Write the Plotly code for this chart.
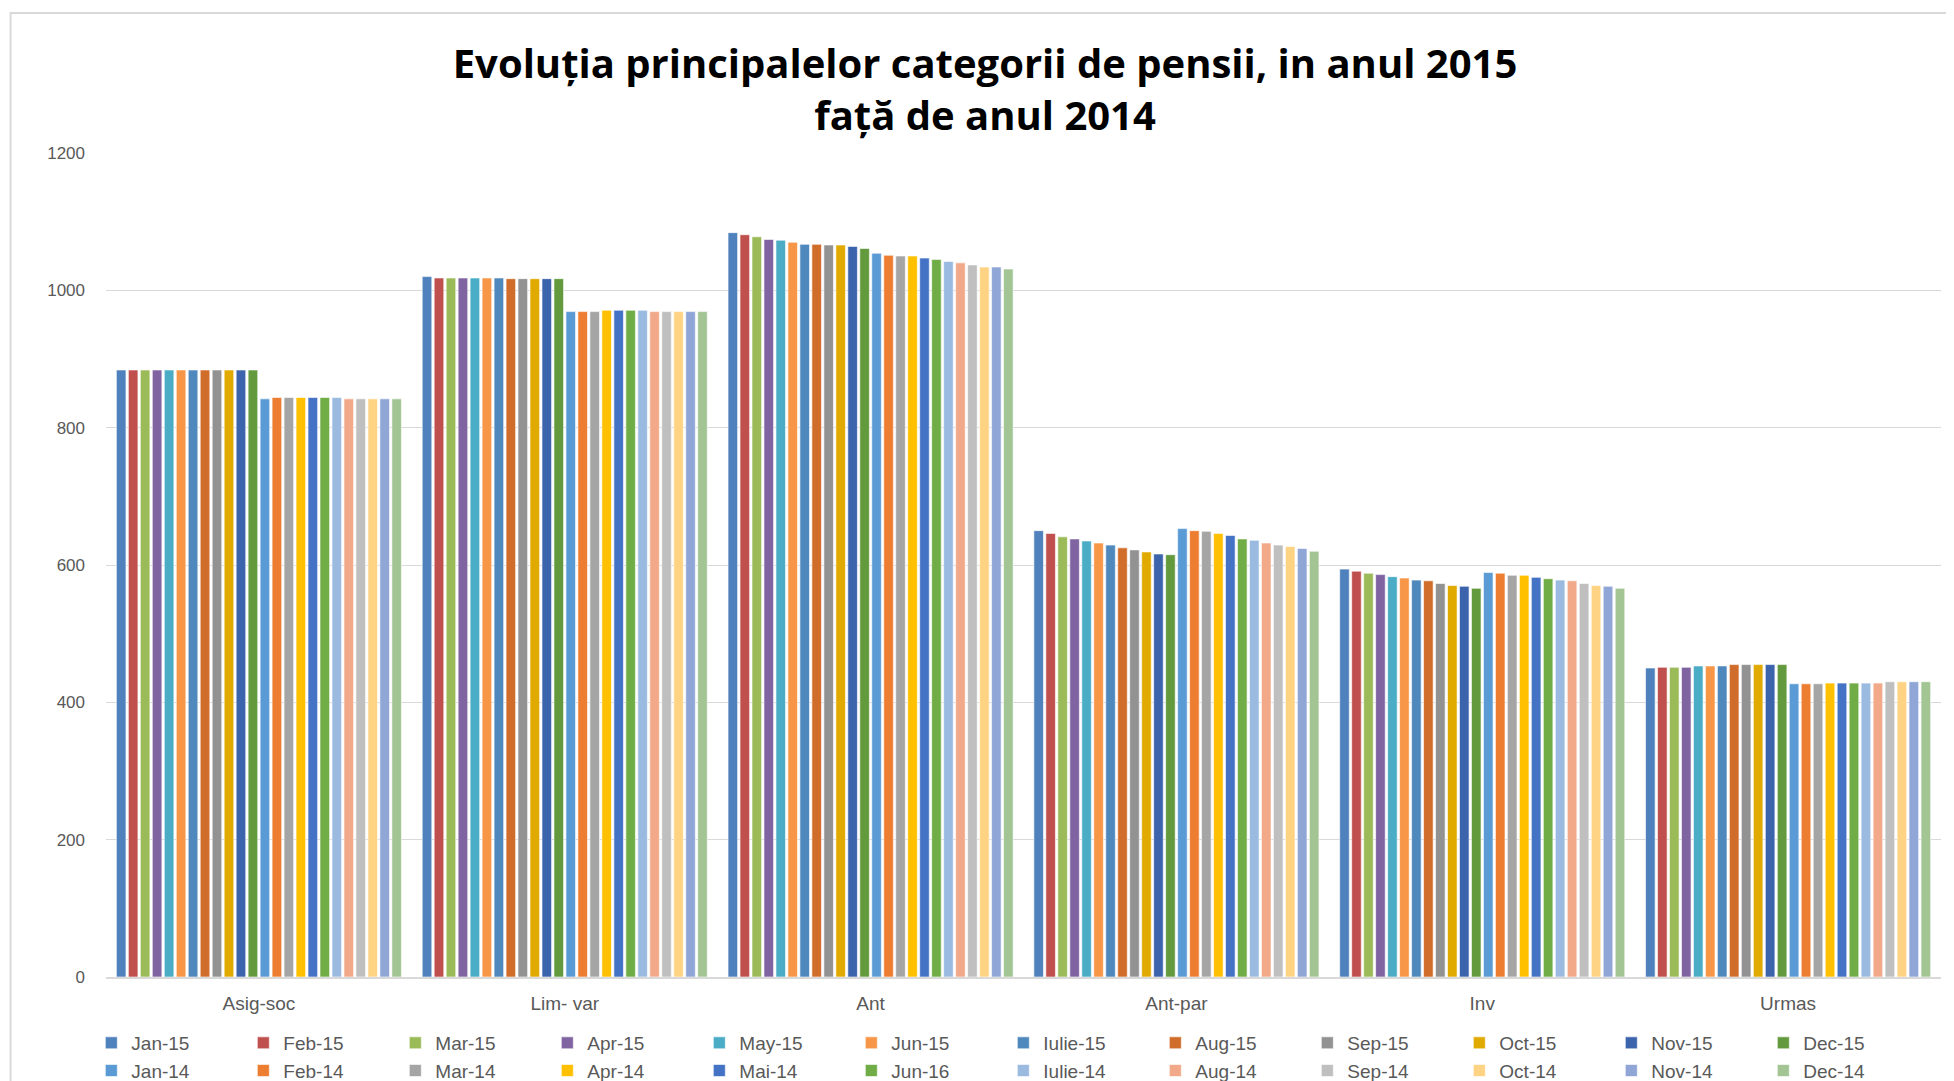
import plotly.graph_objects as go

categories = ["Asig-soc", "Lim- var", "Ant", "Ant-par", "Inv", "Urmas"]

series_names = ["Jan-15", "Feb-15", "Mar-15", "Apr-15", "May-15", "Jun-15",
                "Iulie-15", "Aug-15", "Sep-15", "Oct-15", "Nov-15", "Dec-15",
                "Jan-14", "Feb-14", "Mar-14", "Apr-14", "Mai-14", "Jun-16",
                "Iulie-14", "Aug-14", "Sep-14", "Oct-14", "Nov-14", "Dec-14"]

series_colors = ["#4F81BD", "#C0504D", "#9BBB59", "#8064A2", "#4BACC6", "#F79646",
                 "#4F88BD", "#D16D2B", "#929292", "#E1AA00", "#3C64AD", "#629A3D",
                 "#5B9BD5", "#ED7D31", "#A5A5A5", "#FFC000", "#4472C4", "#70AD47",
                 "#9BBAE0", "#F1A98A", "#BFBFBF", "#FFD384", "#8FA6D6", "#A3C593"]

asig_soc = [884, 884, 884, 884, 884, 884, 884, 884, 884, 884, 884, 884,
            842, 844, 844, 844, 844, 844, 844, 842, 842, 842, 842, 842]
lim_var = [1020, 1018, 1018, 1018, 1018, 1018, 1018, 1017, 1017, 1017, 1017, 1017,
           969, 969, 969, 971, 971, 971, 971, 969, 969, 969, 969, 969]
ant = [1084, 1081, 1078, 1074, 1073, 1070, 1067, 1067, 1066, 1066, 1064, 1061,
       1054, 1051, 1050, 1050, 1047, 1045, 1042, 1040, 1037, 1034, 1034, 1031]
ant_par = [650, 646, 641, 638, 635, 632, 629, 625, 622, 619, 616, 615,
           653, 650, 649, 646, 643, 638, 636, 632, 629, 627, 624, 620]
inv = [594, 591, 588, 586, 583, 581, 578, 577, 573, 570, 569, 566,
       589, 588, 585, 585, 582, 580, 578, 577, 573, 570, 569, 566]
urmas = [450, 451, 451, 451, 453, 453, 453, 455, 455, 455, 455, 455,
         427, 427, 427, 428, 428, 428, 428, 428, 430, 430, 430, 430]

y_ticks = [0, 200, 400, 600, 800, 1000, 1200]

by_category = [asig_soc, lim_var, ant, ant_par, inv, urmas]

fig = go.Figure()
for i, name in enumerate(series_names):
    fig.add_trace(go.Bar(
        x=categories,
        y=[vals[i] for vals in by_category],
        name=name,
        marker=dict(color=series_colors[i], line=dict(color="white", width=0.6)),
    ))

fig.update_layout(
    width=1954, height=1081,
    barmode="group", bargap=0.06, bargroupgap=0.2,
    plot_bgcolor="white", paper_bgcolor="white",
    margin=dict(l=98, r=21, t=145, b=112, autoexpand=False),
    title=dict(
        text="<b>Evoluția principalelor categorii de pensii, in anul 2015<br>față de anul 2014</b>",
        x=0.5, xanchor="center", y=0.935, yanchor="middle",
        font=dict(family="Open Sans", size=40, color="#000000"),
    ),
    font=dict(family="Liberation Sans", color="#595959"),
    xaxis=dict(
        showgrid=False, showline=True, linecolor="#D9D9D9", linewidth=1.5,
        tickfont=dict(size=19, color="#595959"), ticks="", ticklabelstandoff=8,
    ),
    yaxis=dict(
        range=[0, 1200], tickvals=y_ticks, showgrid=True, gridcolor="#D9D9D9",
        gridwidth=1, zeroline=False, showline=False,
        tickfont=dict(size=17, color="#595959"), ticklabelstandoff=20,
    ),
    legend=dict(
        orientation="h", x=-0.008, xanchor="left", y=-0.057, yanchor="top",
        entrywidth=107, entrywidthmode="pixels", traceorder="normal",
        font=dict(size=19, color="#595959"), tracegroupgap=0,
        itemwidth=30,
    ),
    shapes=[dict(type="rect", xref="paper", yref="paper",
                 x0=-0.052, x1=1.012, y0=-0.133, y1=1.17,
                 line=dict(color="#D9D9D9", width=2), fillcolor="rgba(0,0,0,0)",
                 layer="below")],
)

fig.write_html("out.html")
